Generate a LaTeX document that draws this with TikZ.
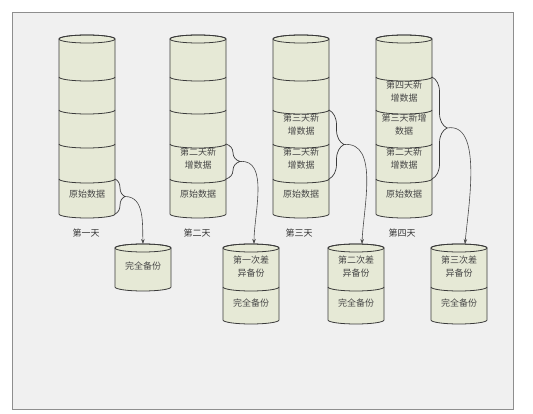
\documentclass[tikz,border=0pt]{standalone}
\usepackage{fontspec}
\setmainfont{Noto Sans CJK SC}
\usepackage{xcolor}
\usetikzlibrary{arrows.meta, decorations.pathreplacing, calc}
\definecolor{cellfill}{HTML}{E6E9D6}
\definecolor{celledge}{HTML}{3A3A3A}
\definecolor{panelgray}{HTML}{F0F0F0}
\definecolor{paneledge}{HTML}{8E8E8E}
\definecolor{linkgray}{HTML}{4A4A4A}

\begin{document}
\begin{tikzpicture}[
  x=1pt, y=1pt,
  cyl/.style={draw=celledge, fill=cellfill, line width=0.8pt},
  rim/.style={draw=celledge, line width=0.8pt},
  cell/.style={font=\fontsize{9}{13}\selectfont, text=black!72, align=center, inner sep=0pt},
  day/.style={font=\fontsize{9}{13}\selectfont, text=black!80},
  brc/.style={draw=celledge, line width=0.7pt, decorate, decoration={brace, amplitude=#1}},
  link/.style={draw=linkgray, line width=0.6pt, -{Stealth[length=5pt, width=3.5pt]}},
]
  \useasboundingbox[fill=white] (0,0) rectangle (533,413);
  \draw[paneledge, fill=panelgray, line width=1pt] (12,4) rectangle (513,400);

  % Stacks, one per day
  \foreach \sx in {59,170,273,376}{
    \filldraw[cyl] (\sx,374) -- (\sx,199) arc[start angle=180, end angle=360, x radius=28pt, y radius=4pt]
      -- (\sx+56,374) arc[start angle=0, end angle=180, x radius=28pt, y radius=4pt] -- cycle;
    \draw[rim] (\sx+28,374) ellipse[x radius=28pt, y radius=4pt];
    \foreach \dy in {336,303,269,234}
      \draw[rim] (\sx,\dy) arc[start angle=180, end angle=360, x radius=28pt, y radius=4pt];
  }

  % Backups
  \filldraw[cyl] (115,165) -- (115,126) arc[start angle=180, end angle=360, x radius=28pt, y radius=4pt]
    -- (171,165) arc[start angle=0, end angle=180, x radius=28pt, y radius=4pt] -- cycle;
  \draw[rim] (143,165) ellipse[x radius=28pt, y radius=4pt];
  \foreach \bx in {223,328,431}{
    \filldraw[cyl] (\bx,165) -- (\bx,93) arc[start angle=180, end angle=360, x radius=28pt, y radius=4pt]
      -- (\bx+56,165) arc[start angle=0, end angle=180, x radius=28pt, y radius=4pt] -- cycle;
    \draw[rim] (\bx+28,165) ellipse[x radius=28pt, y radius=4pt];
    \draw[rim] (\bx,126) arc[start angle=180, end angle=360, x radius=28pt, y radius=4pt];
  }

  % Day 1
  \node[cell] (d1o) at (87,219) {原始数据};
  \node[day] (day1) at (86,180) {第一天};

  % Day 2
  \node[cell] (d2n2) at (198,254) {第二天新\\增数据};
  \node[cell] (d2o) at (198,219) {原始数据};
  \node[day] (day2) at (197,180) {第二天};

  % Day 3
  \node[cell] (d3n3) at (301,288) {第三天新\\增数据};
  \node[cell] (d3n2) at (301,254) {第二天新\\增数据};
  \node[cell] (d3o) at (301,219) {原始数据};
  \node[day] (day3) at (299,180) {第三天};

  % Day 4
  \node[cell] (d4n4) at (404,321) {第四天新\\增数据};
  \node[cell] (d4n3) at (404,288) {第三天新增\\数据};
  \node[cell] (d4n2) at (404,254) {第二天新\\增数据};
  \node[cell] (d4o) at (404,219) {原始数据};
  \node[day] (day4) at (402,180) {第四天};

  % Backup texts
  \node[cell] (full1) at (143,147) {完全备份};
  \node[cell] (diff1) at (251,146) {第一次差\\异备份};
  \node[cell] (full2) at (251,110) {完全备份};
  \node[cell] (diff2) at (356,146) {第二次差\\异备份};
  \node[cell] (full3) at (356,110) {完全备份};
  \node[cell] (diff3) at (459,146) {第三次差\\异备份};
  \node[cell] (full4) at (459,110) {完全备份};

  % Brace ends and arrow targets
  \coordinate (b1a) at (115,234);  \coordinate (b1b) at (115,199);
  \coordinate (b2a) at (226,269);  \coordinate (b2b) at (226,234);
  \coordinate (b3a) at (329,303);  \coordinate (b3b) at (329,234);
  \coordinate (b4a) at (432,336);  \coordinate (b4b) at (432,234);
  \coordinate (t1) at ($(b1a)!0.5!(b1b)+(10,0)$);
  \coordinate (t2) at ($(b2a)!0.5!(b2b)+(14,0)$);
  \coordinate (t3) at ($(b3a)!0.5!(b3b)+(15,0)$);
  \coordinate (t4) at ($(b4a)!0.5!(b4b)+(15,0)$);
  \coordinate (k1) at (143,169);
  \coordinate (k2) at (254,169);
  \coordinate (k3) at (362,169);
  \coordinate (k4) at (465,169);

  % Braces
  \draw[brc=10pt] (b1a) -- (b1b);
  \draw[brc=14pt] (b2a) -- (b2b);
  \draw[brc=15pt] (b3a) -- (b3b);
  \draw[brc=15pt] (b4a) -- (b4b);

  % Links
  \draw[link] (t1) to[out=0, in=92] (k1);
  \draw[link] (t2) to[out=5, in=90, looseness=0.9] (k2);
  \draw[link] (t3) to[out=5, in=88, looseness=0.9] (k3);
  \draw[link] (t4) to[out=10, in=85, looseness=0.8] (k4);

\end{tikzpicture}
\end{document}
